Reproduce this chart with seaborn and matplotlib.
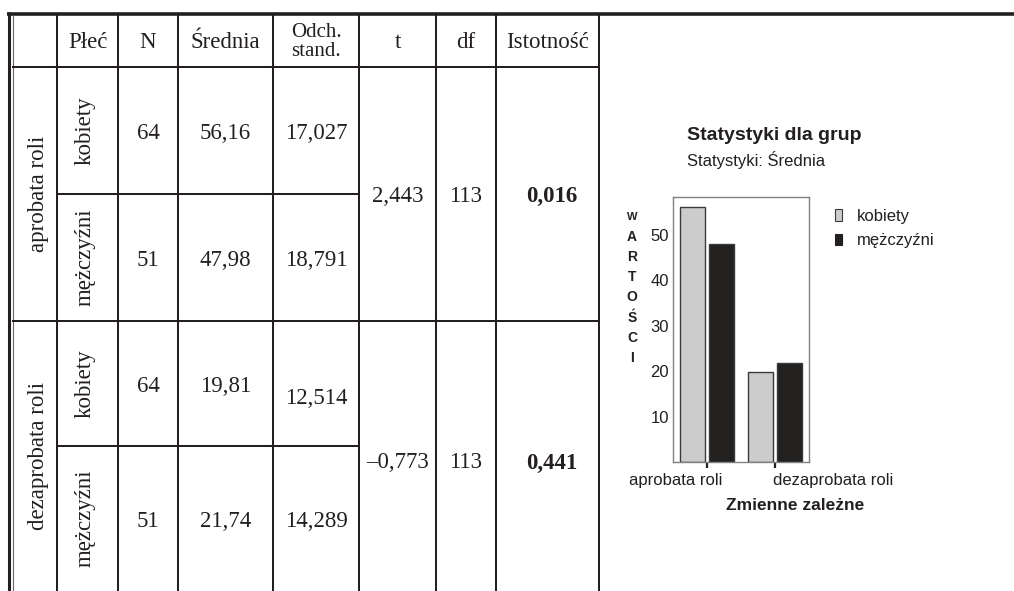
import numpy as np
import pandas as pd
import matplotlib
matplotlib.use("Agg")
import matplotlib.pyplot as plt
import seaborn as sns
from matplotlib.patches import Patch

# ---------------- data ----------------
header = ["Płeć", "N", "Średnia", "Odch.\nstand.", "t", "df", "Istotność"]
zmienne = ["aprobata roli", "dezaprobata roli"]
plec = ["kobiety", "mężczyźni"]
n_values = [64, 51, 64, 51]
srednie = [56.16, 47.98, 19.81, 21.74]
odch = [17.027, 18.791, 12.514, 14.289]
t_values = [2.443, -0.773]
df_values = [113, 113]
istotnosc = [0.016, 0.441]
y_ticks = [10, 20, 30, 40, 50]
y_label = "WARTOŚCI"

def pl(v, d):
    s = f"{abs(v):.{d}f}".replace(".", ",")
    return ("\u2013" + s) if v < 0 else s

sns.set_style("white")
plt.rcParams["font.family"] = ["Liberation Sans", "DejaVu Sans"]

W, H = 1014, 591
fig = plt.figure(figsize=(W / 100, H / 100), dpi=100)

# ---------------- table (pixel coordinates) ----------------
axt = fig.add_axes([0, 0, 1, 1])
axt.set_xlim(0, W)
axt.set_ylim(H, 0)
axt.axis("off")

LC = "#231f20"
col_x = [12, 57, 118, 178, 273, 359, 436, 496, 599]
top_y, head_y = 14, 67
row_y = [67, 194, 321, 446, H]

def line(x0, x1, y0, y1, lw=1.45, c=LC):
    axt.plot([x0, x1], [y0, y1], color=c, lw=lw, solid_capstyle="butt")

line(6.5, W, 13.5, 13.5, lw=2.6)
line(8.5, 8.5, 12, H, lw=2.2)
line(12.5, 12.5, 15, H, lw=0.8, c="#666666")
for x in col_x[1:]:
    line(x, x, 14, H)
line(12, 599, head_y, head_y)
line(12, 599, row_y[2], row_y[2])
for y in (row_y[1], row_y[3]):
    line(57, 359, y, y)

serif = ["Liberation Serif", "DejaVu Serif"]
FS = 16.5
TC = "#231f20"
DY = 3  # visual centring of digits

# header
for i, h in enumerate(header):
    cx = (col_x[i + 1] + col_x[i + 2]) / 2
    if "\n" in h:
        axt.text(cx, 42, h, ha="center", va="center", family=serif, fontsize=FS - 1.5,
                 color=TC, linespacing=0.95)
    else:
        axt.text(cx, 43, h, ha="center", va="center", family=serif, fontsize=FS, color=TC)

# body
odch_dy = [0, 0, 12, 0]
for r in range(4):
    cy = (row_y[r] + row_y[r + 1]) / 2
    axt.text((col_x[1] + col_x[2]) / 2 - 2, cy, plec[r % 2], rotation=90, ha="center",
             va="center", family=serif, fontsize=FS, color=TC)
    axt.text((col_x[2] + col_x[3]) / 2, cy + DY, str(n_values[r]), ha="center",
             va="center", family=serif, fontsize=FS, color=TC)
    axt.text((col_x[3] + col_x[4]) / 2, cy + DY, pl(srednie[r], 2), ha="center",
             va="center", family=serif, fontsize=FS, color=TC)
    axt.text((col_x[4] + col_x[5]) / 2, cy + DY + odch_dy[r], pl(odch[r], 3),
             ha="center", va="center", family=serif, fontsize=FS, color=TC)

sec_cy = [193, 460]
for s in range(2):
    cy_sec = (row_y[2 * s] + row_y[2 * s + 2]) / 2
    axt.text((col_x[0] + col_x[1]) / 2 + 4, cy_sec, zmienne[s], rotation=90, ha="center",
             va="center", family=serif, fontsize=FS, color=TC)
    axt.text((col_x[5] + col_x[6]) / 2, sec_cy[s] + DY, pl(t_values[s], 3), ha="center",
             va="center", family=serif, fontsize=FS, color=TC)
    axt.text((col_x[6] + col_x[7]) / 2, sec_cy[s] + DY, str(df_values[s]), ha="center",
             va="center", family=serif, fontsize=FS, color=TC)
    axt.text((col_x[7] + col_x[8]) / 2 + 4, sec_cy[s] + DY, pl(istotnosc[s], 3),
             ha="center", va="center", family=serif, fontsize=FS, color=TC,
             fontweight="bold")

# ---------------- bar chart ----------------
AX_L, AX_R, AX_T, AX_B = 673, 809, 197, 462
ax = fig.add_axes([AX_L / W, 1 - AX_B / H, (AX_R - AX_L) / W, (AX_B - AX_T) / H])

data = pd.DataFrame({
    "zmienna": np.repeat(zmienne, len(plec)),
    "plec": plec * len(zmienne),
    "srednia": srednie,
})
GRAY, BLACK = "#cccccc", "#231f20"
sns.barplot(data=data, x="zmienna", y="srednia", hue="plec", order=zmienne,
            hue_order=plec, palette=[GRAY, BLACK], width=0.85, gap=0.135,
            edgecolor="#3a3a3a", linewidth=1.0, errorbar=None, ax=ax)

ax.set_xlim(-0.5, 1.5)
ax.set_ylim(0, 58.4)
ax.set_yticks(y_ticks)
ax.set_xlabel("")
ax.set_ylabel("")
for sp in ax.spines.values():
    sp.set_visible(True)
    sp.set_color("#808080")
    sp.set_linewidth(1.0)
ax.tick_params(axis="y", length=0, pad=3, labelsize=12, labelcolor="#231f20")
ax.tick_params(axis="x", length=4, width=1.6, color="#231f20", direction="out",
               labelbottom=False, bottom=True)

# category labels
ax.annotate(zmienne[0], xy=(0, 0), xycoords=("data", "axes fraction"),
            xytext=(11, -13), textcoords="offset points", ha="right", va="center",
            fontsize=12, color="#231f20")
ax.annotate(zmienne[1], xy=(1, 0), xycoords=("data", "axes fraction"),
            xytext=(-1.5, -13), textcoords="offset points", ha="left", va="center",
            fontsize=12, color="#231f20")

# legend
handles = [Patch(facecolor=GRAY, edgecolor="#3a3a3a", lw=0.8),
           Patch(facecolor=BLACK, edgecolor=BLACK, lw=0.8)]
ax.legend(handles, plec, loc="upper left", bbox_to_anchor=(835 / W, 1 - 209 / H),
          bbox_transform=fig.transFigure, frameon=False, borderpad=0,
          borderaxespad=0, handlelength=0.42, handleheight=0.7, handletextpad=0.9,
          labelspacing=0.55, fontsize=12, labelcolor="#231f20")

# titles
fig.text(687 / W, 1 - 135 / H, "Statystyki dla grup", ha="left", va="center",
         fontsize=14, fontweight="bold", color="#231f20")
fig.text(687 / W, 1 - 160 / H, "Statystyki: Średnia", ha="left", va="center",
         fontsize=12, color="#231f20")
fig.text(795 / W, 1 - 506 / H, "Zmienne zależne", ha="center", va="center",
         fontsize=12.5, fontweight="bold", color="#231f20")

# stacked vertical axis label
for i, ch in enumerate(y_label):
    fig.text(632 / W, 1 - (217 + i * 20.1) / H, ch, ha="center", va="center",
             fontsize=8 if i == 0 else 10, fontweight="bold", color="#231f20")

fig.savefig("out.png", dpi=100)
